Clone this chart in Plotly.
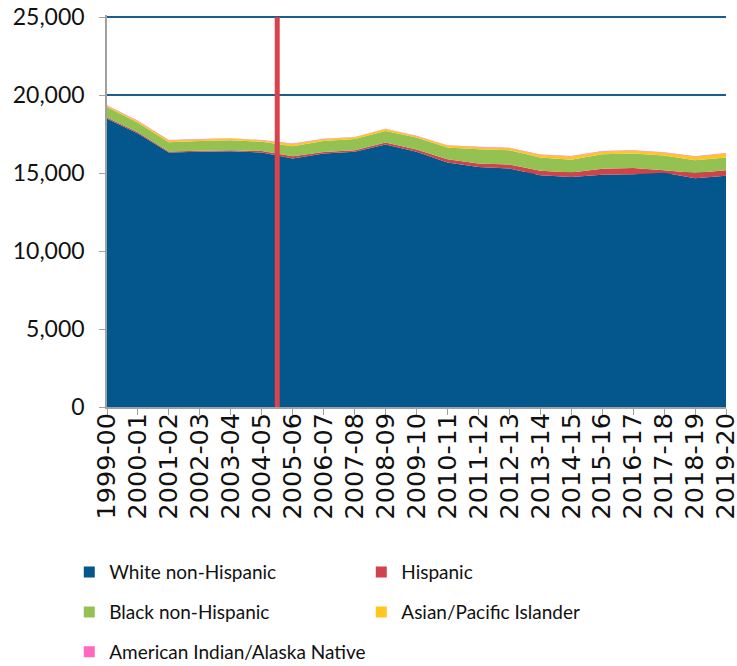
import plotly.graph_objects as go

years = ["1999-00", "2000-01", "2001-02", "2002-03", "2003-04", "2004-05", "2005-06",
         "2006-07", "2007-08", "2008-09", "2009-10", "2010-11", "2011-12", "2012-13",
         "2013-14", "2014-15", "2015-16", "2016-17", "2017-18", "2018-19", "2019-20"]

white_non_hispanic = [18500, 17550, 16330, 16370, 16410, 16330, 15940, 16260, 16370, 16840, 16370,
                      15690, 15400, 15300, 14870, 14760, 14900, 14930, 15030, 14680, 14840]
hispanic = [80, 80, 70, 70, 70, 90, 150, 100, 110, 130, 150,
            210, 220, 260, 280, 280, 380, 410, 160, 340, 350]
black_non_hispanic = [670, 600, 580, 620, 640, 600, 640, 700, 720, 740, 770,
                      750, 920, 920, 860, 830, 940, 920, 940, 810, 820]
asian_pacific = [80, 100, 120, 100, 100, 80, 140, 120, 100, 120, 80,
                 120, 120, 120, 160, 200, 180, 180, 180, 220, 260]
american_indian = [30, 30, 30, 30, 30, 30, 30, 30, 30, 30, 30,
                   30, 30, 30, 30, 30, 30, 30, 30, 30, 30]

series_names = ["White non-Hispanic", "Hispanic", "Black non-Hispanic",
                "Asian/Pacific Islander", "American Indian/Alaska Native"]
series_values = [white_non_hispanic, hispanic, black_non_hispanic, asian_pacific, american_indian]
series_colors = ["#03578D", "#D0434B", "#93C152", "#FFC520", "#FF68BE"]
legend_ids = ["legend", "legend", "legend2", "legend2", "legend3"]

y_ticks = [0, 5000, 10000, 15000, 20000, 25000]
divider_position = 5.5  # between 2004-05 and 2005-06

fig = go.Figure()
for name, vals, col in zip(series_names, series_values, series_colors):
    fig.add_trace(go.Scatter(
        x=years, y=vals, name=name, stackgroup="one", mode="none",
        fillcolor=col, showlegend=False, hoverinfo="x+y+name"))

for name, col, lg in zip(series_names, series_colors, legend_ids):
    fig.add_trace(go.Scatter(
        x=[None], y=[None], name=name, mode="markers", legend=lg,
        marker=dict(symbol="square", size=11, color=col)))

fig.add_shape(type="line", xref="x", yref="y", x0=divider_position, x1=divider_position,
              y0=0, y1=25000, line=dict(color="#D9434B", width=5), layer="above")

legend_common = dict(orientation="h", xanchor="left", yanchor="middle",
                     xref="container", yref="container",
                     entrywidthmode="pixels", traceorder="normal",
                     font=dict(family="Lato", size=19, color="#111"),
                     bgcolor="rgba(0,0,0,0)", itemwidth=30)

fig.update_layout(
    width=737, height=666,
    margin=dict(l=107, r=11, t=15, b=259, autoexpand=False),
    plot_bgcolor="white", paper_bgcolor="white",
    xaxis=dict(type="category", range=[0, 20], showline=True, linecolor="#A0A0A0", linewidth=1.5,
               tickmode="array", tickvals=years, ticktext=years,
               ticks="outside", ticklen=6, tickcolor="#A0A0A0", tickangle=-90,
               automargin=False, ticklabelstandoff=-12,
               tickfont=dict(family="DejaVu Sans", size=25.5, color="#111"), showgrid=False),
    yaxis=dict(range=[0, 25150], tickvals=y_ticks, tickformat=",d", showline=True,
               linecolor="#A0A0A0", linewidth=1.5, ticks="outside", ticklen=6,
               tickcolor="#A0A0A0", showgrid=True, gridcolor="#1B5E8E", gridwidth=2,
               automargin=False, ticklabelstandoff=10,
               zeroline=False, tickfont=dict(family="Lato", size=23, color="#111")),
    legend=dict(x=0.094, y=0.141, entrywidth=247, **legend_common),
    legend2=dict(x=0.094, y=0.081, entrywidth=247, **legend_common),
    legend3=dict(x=0.094, y=0.021, entrywidth=400, **legend_common),
)

fig.write_html("out.html", config={"displayModeBar": False},
               post_script="document.body.style.margin='0';")
